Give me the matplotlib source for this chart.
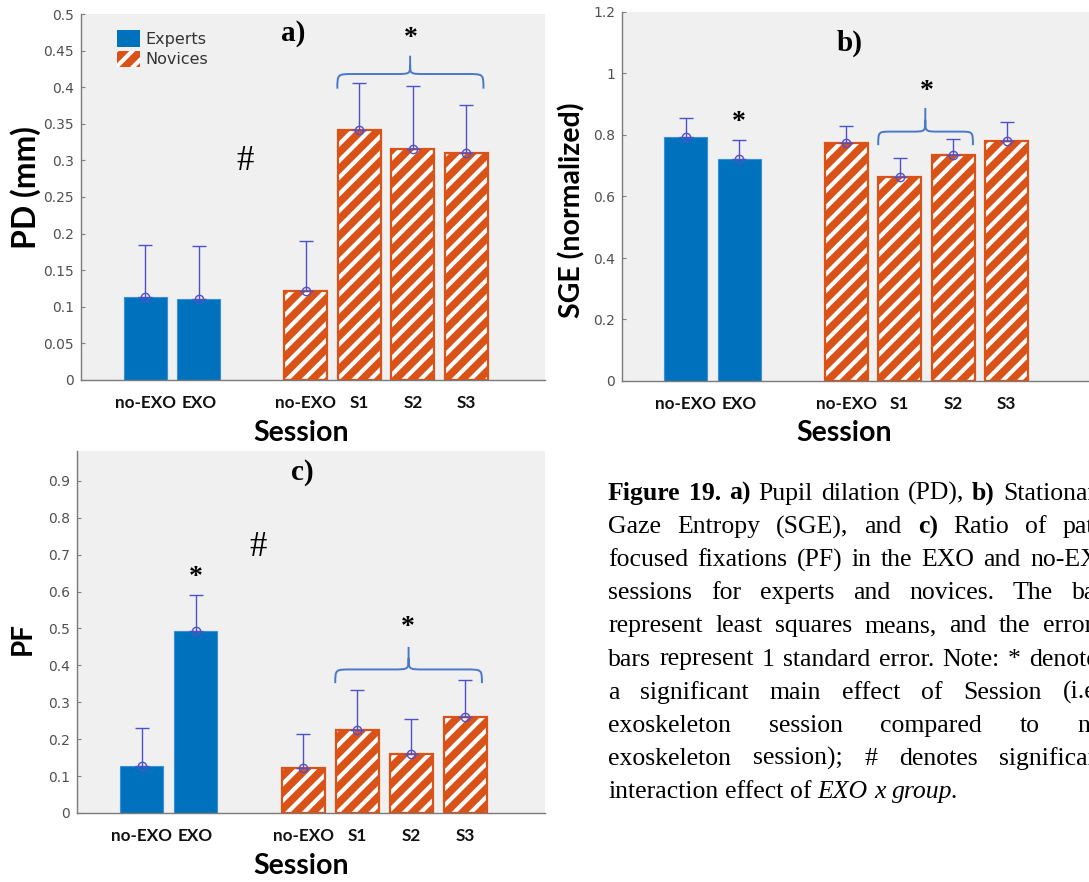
import numpy as np
import matplotlib
matplotlib.use("Agg")
import matplotlib.pyplot as plt
from matplotlib.patches import Patch, PathPatch
from matplotlib.path import Path

# data
x_pos = [1, 2, 4, 5, 6, 7]
tick_labels = ['no-EXO', 'EXO', 'no-EXO', 'S1', 'S2', 'S3']
is_expert = [True, True, False, False, False, False]

pd_mean = [0.114, 0.110, 0.122, 0.341, 0.316, 0.310]
pd_se = [0.071, 0.073, 0.068, 0.065, 0.086, 0.066]

sge_mean = [0.795, 0.722, 0.775, 0.662, 0.735, 0.780]
sge_se = [0.061, 0.061, 0.054, 0.064, 0.053, 0.061]

pf_mean = [0.127, 0.493, 0.123, 0.226, 0.161, 0.260]
pf_se = [0.102, 0.099, 0.092, 0.108, 0.094, 0.100]

BLUE = '#0072BD'
ORANGE = '#D95319'
ERR = '#5050C8'
BRACE = '#4A78C8'
AXBG = '#F0F0F0'
LABFONT = 'Lato'

plt.rcParams['hatch.linewidth'] = 3.0
W, H = 1089, 882
fig = plt.figure(figsize=(W / 100, H / 100), dpi=100)


def px_axes(l, r, t, b):
    return fig.add_axes([l / W, 1 - b / H, (r - l) / W, (b - t) / H])


def brace(ax, x0, x1, xc, ytip, ymid, ytop, r=0.3):
    dy = ytop - ymid
    verts = [(x0, ytip), (x0, ymid), (x0, ymid), (x0 + r, ymid),
             (xc - r, ymid),
             (xc, ymid), (xc, ymid), (xc, ymid + dy * 0.5),
             (xc, ytop),
             (xc, ymid + dy * 0.5), (xc, ymid), (xc, ymid), (xc + r, ymid),
             (x1 - r, ymid),
             (x1, ymid), (x1, ymid), (x1, ytip)]
    codes = [Path.MOVETO, Path.CURVE4, Path.CURVE4, Path.CURVE4,
             Path.LINETO,
             Path.CURVE4, Path.CURVE4, Path.CURVE4,
             Path.LINETO,
             Path.MOVETO, Path.CURVE4, Path.CURVE4, Path.CURVE4,
             Path.LINETO,
             Path.CURVE4, Path.CURVE4, Path.CURVE4]
    ax.add_patch(PathPatch(Path(verts, codes), fill=False, edgecolor=BRACE, lw=1.4))


def panel(ax, means, ses, ylim, yticks, ylabel, ysize, lab_xy, xlim):
    ax.set_facecolor(AXBG)
    xe = [x for x, e in zip(x_pos, is_expert) if e]
    me = [m for m, e in zip(means, is_expert) if e]
    xn = [x for x, e in zip(x_pos, is_expert) if not e]
    mn = [m for m, e in zip(means, is_expert) if not e]
    ax.bar(xe, me, width=0.8, color=BLUE, edgecolor='#3A90D8', lw=0.8, zorder=2)
    ax.bar(xn, mn, width=0.8, color=ORANGE, edgecolor='white', hatch='//', lw=0, zorder=2)
    ax.bar(xn, mn, width=0.8, fill=False, edgecolor=ORANGE, lw=1.6, zorder=3)
    ax.errorbar(x_pos, means, yerr=[np.zeros(len(ses)), ses], fmt='o', mfc='none',
                mec=ERR, ecolor=ERR, ms=6, mew=1, elinewidth=1, capsize=5, capthick=1.2, zorder=4)
    ax.set_xlim(*xlim)
    ax.set_ylim(*ylim)
    ax.set_yticks(yticks)
    ax.set_yticklabels([f'{v:g}' for v in yticks])
    ax.set_xticks(x_pos)
    ax.set_xticklabels(tick_labels, fontfamily=LABFONT, fontweight='bold', fontsize=12.3)
    ax.tick_params(axis='y', direction='in', length=3, width=0.8, colors='#808080',
                   labelcolor='#505050', labelsize=10, pad=5)
    ax.tick_params(axis='x', length=0, pad=11, labelcolor='#111111')
    for s in ['top', 'right']:
        ax.spines[s].set_visible(False)
    for s in ['left', 'bottom']:
        ax.spines[s].set_color('#7a7a7a')
        ax.spines[s].set_linewidth(1.0)
    ax.text(lab_xy[0], lab_xy[1], ylabel, rotation=90, transform=ax.transAxes,
            ha='center', va='center', fontfamily=LABFONT, fontweight='bold', fontsize=ysize)
    ax.text(lab_xy[2], lab_xy[3], 'Session', transform=ax.transAxes,
            ha='center', va='center', fontfamily=LABFONT, fontweight='bold', fontsize=20.5)


def note(ax, x, y, s, size):
    ax.text(x, y, s, ha='center', va='center', fontfamily='Liberation Serif',
            fontweight='normal' if s == '#' else 'bold', fontsize=size, zorder=5)


# panel a
ax_a = px_axes(81, 545, 14, 380)
panel(ax_a, pd_mean, pd_se, (0, 0.5), np.arange(0, 0.501, 0.05), 'PD (mm)', 23,
      (-0.12, 0.525, 0.474, -0.145), (-0.2, 8.47))
note(ax_a, 3.76, 0.473, 'a)', 21)
note(ax_a, 2.87, 0.298, '#', 25)
note(ax_a, 5.97, 0.466, '*', 20)
brace(ax_a, 4.59, 7.32, 5.95, 0.398, 0.418, 0.443)
handles = [Patch(facecolor=BLUE, edgecolor=BLUE, lw=0),
           Patch(facecolor=ORANGE, edgecolor='white', hatch='//', lw=0)]
ax_a.legend(handles, ['Experts', 'Novices'], loc='upper left', bbox_to_anchor=(0.078, 0.955),
            frameon=False, fontsize=11.5, handlelength=1.4, handleheight=1.25,
            labelspacing=0.2, handletextpad=0.35, borderpad=0, borderaxespad=0,
            labelcolor='#333333')

# panel b
ax_b = px_axes(622, 1089, 12, 381)
panel(ax_b, sge_mean, sge_se, (0, 1.2), np.arange(0, 1.201, 0.2), 'SGE (normalized)', 20.5,
      (-0.107, 0.463, 0.475, -0.14), (-0.19, 8.54))
note(ax_b, 4.07, 1.099, 'b)', 21)
note(ax_b, 2.0, 0.842, '*', 20)
note(ax_b, 5.5, 0.942, '*', 20)
brace(ax_b, 4.6, 6.37, 5.48, 0.767, 0.811, 0.888, r=0.25)

# panel c
ax_c = px_axes(77, 545, 451, 813)
panel(ax_c, pf_mean, pf_se, (0, 0.981), np.arange(0, 0.901, 0.1), 'PF', 20,
      (-0.115, 0.483, 0.48, -0.146), (-0.2, 8.48))
note(ax_c, 3.97, 0.924, 'c)', 21)
note(ax_c, 3.16, 0.72, '#', 25)
note(ax_c, 2.0, 0.637, '*', 20)
note(ax_c, 5.94, 0.502, '*', 20)
brace(ax_c, 4.59, 7.31, 5.95, 0.352, 0.389, 0.45)

# caption, justified lines (cut at the right edge like the source)
caption = [
    ([('Figure', 'b'), ('19.', 'b'), ('a)', 'b'), ('Pupil', 'n'), ('dilation', 'n'), ('(PD),', 'n'),
      ('b)', 'b'), ('Stationary', 'n')], 1003),
    ([('Gaze', 'n'), ('Entropy', 'n'), ('(SGE),', 'n'), ('and', 'n'), ('c)', 'b'), ('Ratio', 'n'),
      ('of', 'n'), ('patch-', 'n')], 1063),
    ([('focused', 'n'), ('fixations', 'n'), ('(PF)', 'n'), ('in', 'n'), ('the', 'n'), ('EXO', 'n'),
      ('and', 'n'), ('no-EXO', 'n')], 1030),
    ([('sessions', 'n'), ('for', 'n'), ('experts', 'n'), ('and', 'n'), ('novices.', 'n'),
      ('The', 'n'), ('bars', 'n')], 1072),
    ([('represent', 'n'), ('least', 'n'), ('squares', 'n'), ('means,', 'n'), ('and', 'n'),
      ('the', 'n'), ('error', 'n')], 1043),
    ([('bars', 'n'), ('represent', 'n'), ('1', 'n'), ('standard', 'n'), ('error.', 'n'),
      ('Note:', 'n'), ('*', 'n'), ('denotes', 'n')], 1029),
    ([('a', 'n'), ('significant', 'n'), ('main', 'n'), ('effect', 'n'), ('of', 'n'),
      ('Session', 'n'), ('(i.e.,', 'n')], 1063),
    ([('exoskeleton', 'n'), ('session', 'n'), ('compared', 'n'), ('to', 'n'), ('no-', 'n')], 1077),
    ([('exoskeleton', 'n'), ('session);', 'n'), ('#', 'n'), ('denotes', 'n'),
      ('significant', 'n')], 999),
    ([('interaction', 'n'), ('effect', 'n'), ('of', 'n'), ('EXO', 'i'), ('x', 'i'),
      ('group.', 'i')], None),
]
CAPSIZE = 18.5
x_start = 608
base0 = 500
line_gap = 33.1
renderer = fig.canvas.get_renderer()


def tw(s, **kw):
    t = fig.text(0, 0, s, fontfamily='Liberation Serif', fontsize=CAPSIZE, **kw)
    w = t.get_window_extent(renderer).width
    t.remove()
    return w


space = tw('a a') - tw('aa')
for i, (words, x_last) in enumerate(caption):
    y = 1 - (base0 + i * line_gap) / H
    objs = []
    for w, st in words:
        t = fig.text(0, y, w, fontfamily='Liberation Serif', fontsize=CAPSIZE, va='baseline',
                     ha='left', fontweight='bold' if st == 'b' else 'normal',
                     fontstyle='italic' if st == 'i' else 'normal', color='black')
        objs.append(t)
    widths = [t.get_window_extent(renderer).width for t in objs]
    if x_last is None:
        gap = space
    else:
        gap = max(space * 0.8, (x_last - x_start - sum(widths[:-1])) / (len(words) - 1))
    x = x_start
    for t, wd in zip(objs, widths):
        t.set_x(x / W)
        x += wd + gap

fig.savefig('out.png', dpi=100)
